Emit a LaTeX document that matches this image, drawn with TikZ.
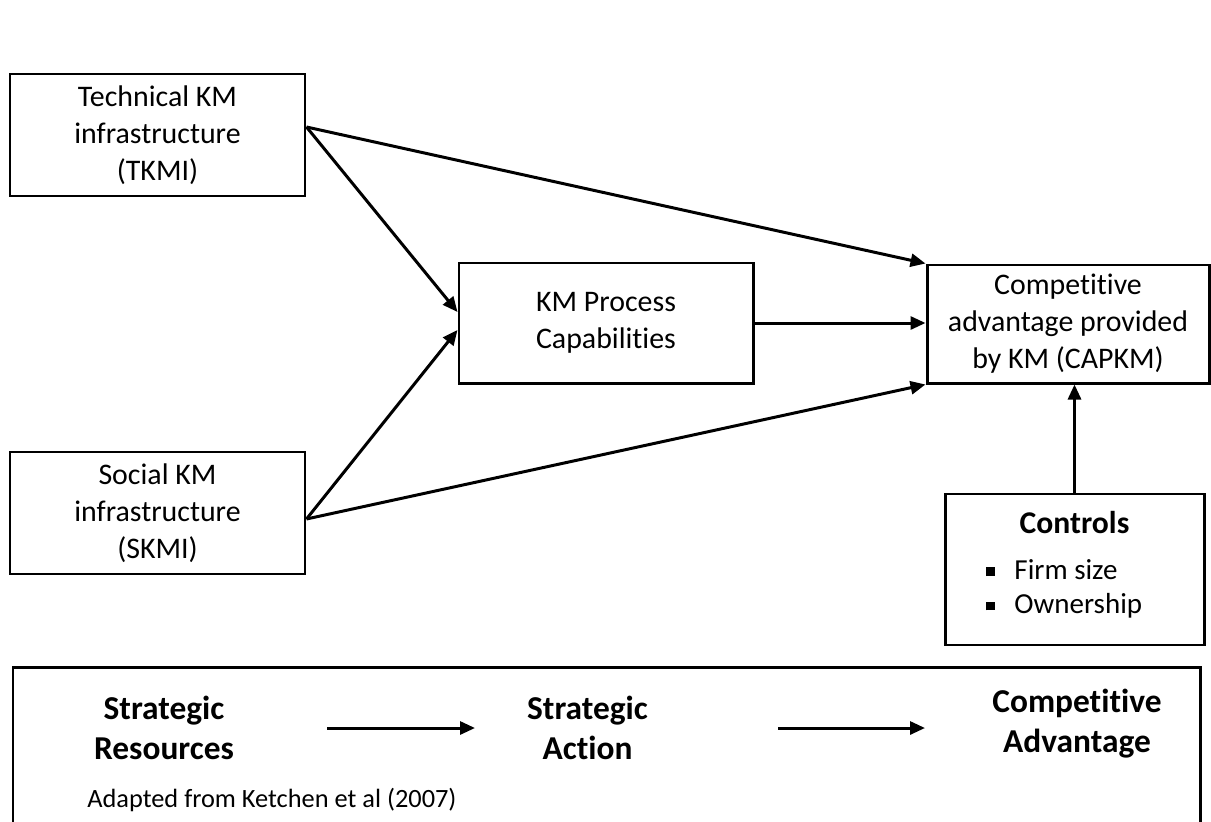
\documentclass[tikz,border=0pt]{standalone}
\usepackage{fontspec}
\setmainfont[Ligatures=NoCommon]{Carlito}
\usetikzlibrary{positioning,arrows.meta,calc}

\begin{document}
\begin{tikzpicture}[
    box/.style={rectangle, draw, line width=1.7pt, align=center, font=\fontsize{17}{21}\selectfont},
    arrow/.style={-{Triangle[length=3mm,width=2.6mm]}, line width=1.7pt},
    stage/.style={inner sep=0pt, align=center, font=\bfseries\fontsize{19}{23}\selectfont}]
    \useasboundingbox (0,0) rectangle (24.22,-16.42);

    % Research model
    \node[box, minimum width=5.9cm, minimum height=2.44cm] (tkmi) at (3.15,-2.70) {Technical KM\\infrastructure\\(TKMI)};
    \node[box, minimum width=5.9cm, minimum height=2.44cm, below=5.06cm of tkmi] (skmi) {Social KM\\infrastructure\\(SKMI)};
    \node[box, minimum width=5.88cm, minimum height=2.4cm] (kmpc) at (12.12,-6.46) {KM Process\\Capabilities};
    \node[box, minimum width=5.64cm, minimum height=2.36cm] (capkm) at (21.36,-6.48) {Competitive\\advantage provided\\by KM (CAPKM)};
    \node[box, minimum width=5.18cm, minimum height=3.02cm, below=2.16cm of capkm, xshift=0.13cm] (controls) {};
    \node[inner sep=0pt, font=\bfseries\fontsize{18}{21}\selectfont] (ctitle) at ($(controls.north)+(0,-0.6)$) {Controls};
    \node[inner sep=0pt, anchor=west, align=left, font=\fontsize{16.5}{19.5}\selectfont] (citems) at (19.72,-11.78)
        {\rule[0.25ex]{5pt}{5pt}\hspace{11pt}Firm size\\\rule[0.25ex]{5pt}{5pt}\hspace{11pt}Ownership};

    % Paths
    \draw[arrow] ([yshift=0.16cm]tkmi.east) -- (capkm.north west);
    \draw[arrow] ([yshift=0.16cm]tkmi.east) -- ([yshift=0.22cm]kmpc.west);
    \draw[arrow] ([yshift=-0.12cm]skmi.east) -- ([yshift=-0.14cm]kmpc.west);
    \draw[arrow] ([yshift=-0.12cm]skmi.east) -- (capkm.south west);
    \draw[arrow] (kmpc.east) -- (kmpc.east -| capkm.west);
    \draw[arrow] (controls.north) -- (controls.north |- capkm.south);

    % Underlying logic
    \draw[line width=1.7pt] (0.26,-16.6) |- (24.0,-13.34) -- (24.0,-16.6);
    \node[stage] (res) at (3.28,-14.56) {Strategic\\Resources};
    \node[stage] (act) at (11.75,-14.56) {Strategic\\Action};
    \node[stage] (adv) at (21.54,-14.47) {Competitive\\Advantage};
    \draw[arrow] (res.east) ++(1.86,0) coordinate (r1) -- (r1 -| 9.5,0);
    \draw[arrow] ($(act.east)+(2.6,0)$) coordinate (a1) -- (a1 -| 18.5,0);
    \node[inner sep=0pt, anchor=west, font=\fontsize{15}{18}\selectfont] (adapted) at (1.74,-16.0) {Adapted from Ketchen et al (2007)};
\end{tikzpicture}
\end{document}
